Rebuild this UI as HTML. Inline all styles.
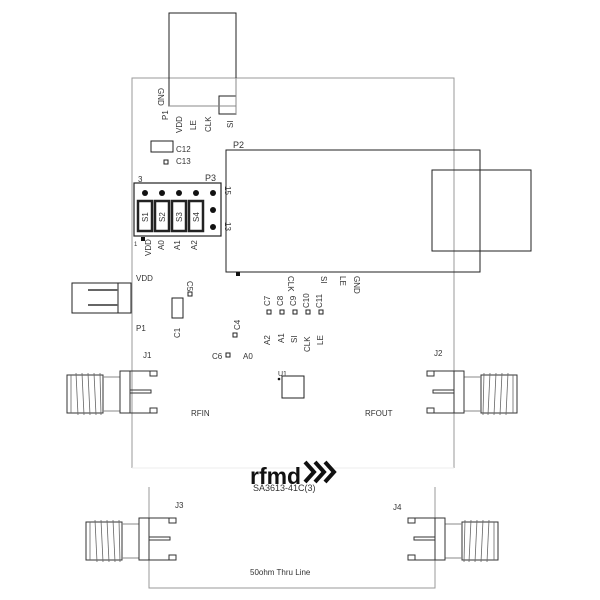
<!DOCTYPE html>
<html><head><style>html,body{margin:0;padding:0;background:#fff}svg{display:block}text{font-family:"Liberation Sans",sans-serif;fill:#333}</style></head>
<body>
<svg width="600" height="600" viewBox="0 0 600 600" xmlns="http://www.w3.org/2000/svg">
<g fill="none" stroke="#999" stroke-width="1">
<polyline points="132,468 132,78 454,78 454,468"/>
<line x1="132" y1="468" x2="454" y2="468" stroke="#eee"/>
<polyline points="149,487 149,588 435,588 435,487"/>
</g>
<g fill="none" stroke="#222" stroke-width="1">
<rect x="169" y="13" width="67" height="93"/>
<rect x="219" y="96" width="17" height="18"/>
<line x1="236" y1="78" x2="236" y2="114" stroke="#888"/>
<line x1="169" y1="106" x2="236" y2="106" stroke="#888"/>
<rect x="151" y="141" width="22" height="11"/>
<rect x="164" y="160" width="4" height="4"/>
<rect x="226" y="150" width="254" height="122"/>
<rect x="432" y="170" width="99" height="81"/>
<rect x="134" y="183" width="87" height="53" stroke-width="1.2"/>
<rect x="138" y="201" width="14" height="30" stroke-width="2.5"/>
<rect x="155" y="201" width="14" height="30" stroke-width="2.5"/>
<rect x="172" y="201" width="14" height="30" stroke-width="2.5"/>
<rect x="189" y="201" width="14" height="30" stroke-width="2.5"/>
<rect x="72" y="283" width="59" height="30"/>
<line x1="118" y1="283" x2="118" y2="313"/>
<line x1="88" y1="290" x2="118" y2="290" stroke-width="2" stroke="#666"/>
<line x1="88" y1="305" x2="118" y2="305" stroke-width="2" stroke="#666"/>
<rect x="172" y="298" width="11" height="20"/>
<rect x="188" y="292" width="4" height="4"/>
<rect x="233" y="333" width="4" height="4"/>
<rect x="226" y="353" width="4" height="4"/>
<rect x="267" y="310" width="4" height="4"/>
<rect x="280" y="310" width="4" height="4"/>
<rect x="293" y="310" width="4" height="4"/>
<rect x="306" y="310" width="4" height="4"/>
<rect x="319" y="310" width="4" height="4"/>
<rect x="282" y="376" width="22" height="22"/>
</g>
<g fill="#111">
<circle cx="145" cy="193" r="3"/><circle cx="162" cy="193" r="3"/><circle cx="179" cy="193" r="3"/><circle cx="196" cy="193" r="3"/><circle cx="213" cy="193" r="3"/>
<circle cx="213" cy="210" r="3"/><circle cx="213" cy="227" r="3"/>
<rect x="141" y="237" width="4" height="4"/>
<rect x="236" y="272" width="4" height="4"/>
<circle cx="279" cy="379" r="1.3"/>
</g>
<defs>
<g id="sma">
<rect x="0" y="4" width="36" height="38" fill="none" stroke="#333"/>
<g stroke="#666" stroke-width="0.8">
<line x1="4" y1="4" x2="4" y2="42"/><line x1="9" y1="2" x2="11" y2="44"/><line x1="15" y1="2" x2="17" y2="44"/><line x1="21" y1="2" x2="23" y2="44"/><line x1="27" y1="2" x2="29" y2="44"/><line x1="33" y1="2" x2="34" y2="44"/>
</g>
<line x1="36" y1="6" x2="53" y2="6" stroke="#888"/><line x1="36" y1="40" x2="53" y2="40" stroke="#888"/>
<polyline points="90,0 53,0 53,42 90,42" fill="none" stroke="#333"/>
<line x1="63" y1="0" x2="63" y2="42" stroke="#333"/>
<rect x="83" y="0" width="7" height="5" fill="none" stroke="#333"/>
<rect x="83" y="37" width="7" height="5" fill="none" stroke="#333"/>
<rect x="63" y="19" width="21" height="3" fill="none" stroke="#333"/>
</g>
</defs>
<use href="#sma" x="67" y="371"/>
<use href="#sma" x="86" y="518"/>
<use href="#sma" transform="translate(517,371) scale(-1,1)"/>
<use href="#sma" transform="translate(498,518) scale(-1,1)"/>
<g font-size="8">
<text x="233" y="148" font-size="9">P2</text>
<text x="205" y="181" font-size="9">P3</text>
<text x="138" y="182">3</text>
<text x="176" y="152">C12</text>
<text x="176" y="164">C13</text>
<text x="136" y="281">VDD</text>
<text x="136" y="331">P1</text>
<text x="143" y="358">J1</text>
<text x="434" y="356">J2</text>
<text x="175" y="508">J3</text>
<text x="393" y="510">J4</text>
<text x="191" y="416">RFIN</text>
<text x="365" y="416">RFOUT</text>
<text x="212" y="359">C6</text>
<text x="243" y="359">A0</text>
<text x="253" y="491" font-size="9">SA3613-41C(3)</text>
<text x="250" y="575">50ohm Thru Line</text>
<text x="250" y="484" font-size="23" font-weight="bold" style="fill:#111">rfmd</text>
<text x="134" y="246" font-size="6">1</text>
</g>
<g fill="none" stroke="#111" stroke-width="4">
<polyline points="305,462 314,472 305,482"/><polyline points="315,462 324,472 315,482"/><polyline points="325,462 334,472 325,482"/>
</g>
<g font-size="8">
<text transform="translate(158,88) rotate(90)">GND</text>
<text transform="translate(168,120) rotate(-90)">P1</text>
<text transform="translate(182,133) rotate(-90)">VDD</text>
<text transform="translate(196,130) rotate(-90)">LE</text>
<text transform="translate(211,132) rotate(-90)">CLK</text>
<text transform="translate(233,128) rotate(-90)">SI</text>
<text transform="translate(148,222) rotate(-90)">S1</text>
<text transform="translate(165,222) rotate(-90)">S2</text>
<text transform="translate(182,222) rotate(-90)">S3</text>
<text transform="translate(199,222) rotate(-90)">S4</text>
<text transform="translate(151,256) rotate(-90)">VDD</text>
<text transform="translate(164,250) rotate(-90)">A0</text>
<text transform="translate(180,250) rotate(-90)">A1</text>
<text transform="translate(197,250) rotate(-90)">A2</text>
<text transform="translate(225,186) rotate(90)">15</text>
<text transform="translate(225,222) rotate(90)">13</text>
<text transform="translate(288,276) rotate(90)">CLK</text>
<text transform="translate(321,276) rotate(90)">SI</text>
<text transform="translate(340,276) rotate(90)">LE</text>
<text transform="translate(354,276) rotate(90)">GND</text>
<text transform="translate(187,281) rotate(90)">C5</text>
<text transform="translate(180,338) rotate(-90)">C1</text>
<text transform="translate(240,330) rotate(-90)">C4</text>
<text transform="translate(270,306) rotate(-90)">C7</text>
<text transform="translate(283,306) rotate(-90)">C8</text>
<text transform="translate(296,306) rotate(-90)">C9</text>
<text transform="translate(309,308) rotate(-90)">C10</text>
<text transform="translate(322,308) rotate(-90)">C11</text>
<text transform="translate(270,345) rotate(-90)">A2</text>
<text transform="translate(284,343) rotate(-90)">A1</text>
<text transform="translate(297,343) rotate(-90)">SI</text>
<text transform="translate(310,352) rotate(-90)">CLK</text>
<text transform="translate(323,345) rotate(-90)">LE</text>
<text x="278" y="376" font-size="7">U1</text>
</g>
</svg>
</body></html>
